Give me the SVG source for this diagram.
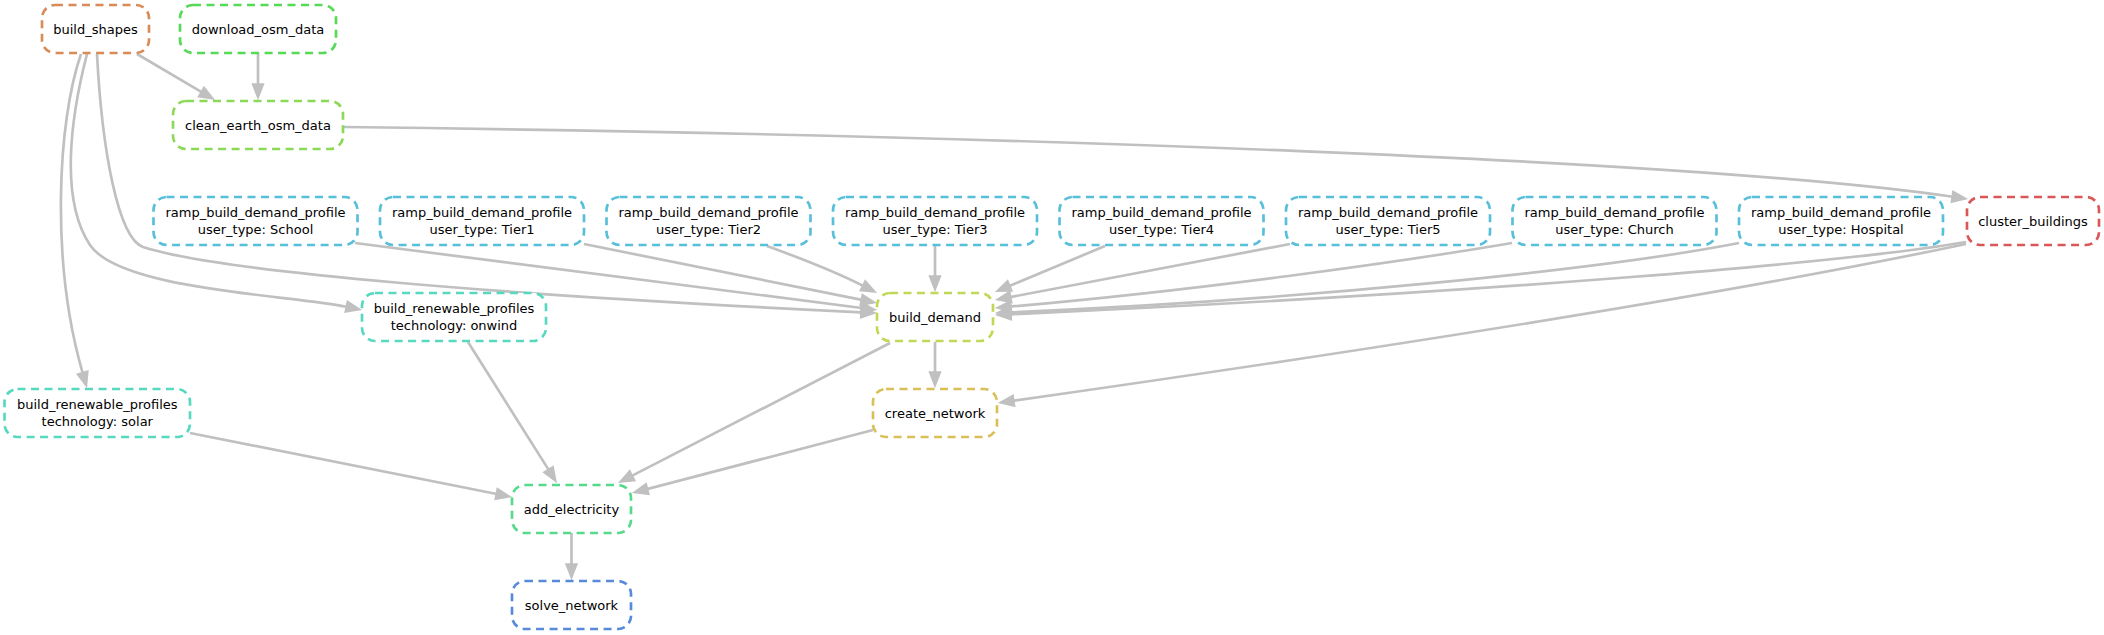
<svg xmlns="http://www.w3.org/2000/svg" width="2104" height="635" viewBox="0 0 2104 635">
<defs>
<style>
.n rect{fill:#fff;stroke-width:2.67;stroke-dasharray:8,5.5}
.n text{font-family:"DejaVu Sans","Liberation Sans",sans-serif;font-size:13px;fill:#000;text-anchor:middle}
#edges path{fill:none;stroke:#c0c0c0;stroke-width:2.67;marker-end:url(#ah)}
.c0 rect{stroke:#D95757}.c1 rect{stroke:#D98B57}.c2 rect{stroke:#D9BF57}.c3 rect{stroke:#BFD957}.c4 rect{stroke:#8BD957}.c5 rect{stroke:#57D957}.c6 rect{stroke:#57D98B}.c7 rect{stroke:#57D9BF}.c8 rect{stroke:#57BFD9}.c9 rect{stroke:#578BD9}
</style>
<marker id="ah" markerUnits="userSpaceOnUse" markerWidth="24" markerHeight="16" viewBox="-2 -8 24 16" refX="0" refY="0" orient="auto" overflow="visible">
<path d="M0,-4.7 L12,0 L0,4.7 Z" fill="#c0c0c0" stroke="#c0c0c0" stroke-width="2.67"/>
</marker>
</defs>
<rect width="2104" height="635" fill="#fff"/>
<g id="edges">
<path d="M137,54 L201.7,92.1"/>
<path d="M258,53 L258,84.5"/>
<path d="M343,127 C1000,135 1700,160 1952.7,196.8"/>
<path d="M97,54 C102,150 118,238 143,247 C220,272 500,295 861.5,312.3"/>
<path d="M87,54 C70,120 60,200 90,245 C120,290 290,295 346.8,306.8"/>
<path d="M81,54 C58,120 50,260 82.7,373.1"/>
<path d="M355,243 L861.6,308"/>
<path d="M584,244 L861.8,299.9"/>
<path d="M767,246 C800,258 840,274 863.2,285.9"/>
<path d="M935,246 L935,276.5"/>
<path d="M1105,246 L1009.3,286"/>
<path d="M1290,244 L1010.2,297.1"/>
<path d="M1512,243 C1400,262 1200,290 1010.4,306.6"/>
<path d="M1739,243 C1600,270 1300,300 1010.5,312.3"/>
<path d="M1966,242 C1850,262 1500,292 1010.5,314.3"/>
<path d="M1966,244 C1700,300 1300,360 1013.3,400.8"/>
<path d="M935,342 L935,372.5"/>
<path d="M890,343 L631.8,475.9"/>
<path d="M468,342 L548.7,469.9"/>
<path d="M873,430 L647,489.1"/>
<path d="M190,433 L496.8,494"/>
<path d="M571.5,533 L571.5,564.5"/>
</g>
<g id="build_shapes" class="n c1"><rect x="42" y="5" width="107" height="48" rx="13"/><text x="95.5" y="33.5">build_shapes</text></g>
<g id="download_osm_data" class="n c5"><rect x="180" y="5" width="156" height="48" rx="13"/><text x="258" y="33.5">download_osm_data</text></g>
<g id="clean_earth_osm_data" class="n c4"><rect x="173" y="101" width="170" height="48" rx="13"/><text x="258" y="129.5">clean_earth_osm_data</text></g>
<g id="ramp_school" class="n c8"><rect x="153.5" y="197" width="204" height="48" rx="13"/><text x="255.5" y="216.5">ramp_build_demand_profile</text><text x="255.5" y="233.5">user_type: School</text></g>
<g id="ramp_tier1" class="n c8"><rect x="380" y="197" width="204" height="48" rx="13"/><text x="482" y="216.5">ramp_build_demand_profile</text><text x="482" y="233.5">user_type: Tier1</text></g>
<g id="ramp_tier2" class="n c8"><rect x="606.5" y="197" width="204" height="48" rx="13"/><text x="708.5" y="216.5">ramp_build_demand_profile</text><text x="708.5" y="233.5">user_type: Tier2</text></g>
<g id="ramp_tier3" class="n c8"><rect x="833" y="197" width="204" height="48" rx="13"/><text x="935" y="216.5">ramp_build_demand_profile</text><text x="935" y="233.5">user_type: Tier3</text></g>
<g id="ramp_tier4" class="n c8"><rect x="1059.5" y="197" width="204" height="48" rx="13"/><text x="1161.5" y="216.5">ramp_build_demand_profile</text><text x="1161.5" y="233.5">user_type: Tier4</text></g>
<g id="ramp_tier5" class="n c8"><rect x="1286" y="197" width="204" height="48" rx="13"/><text x="1388" y="216.5">ramp_build_demand_profile</text><text x="1388" y="233.5">user_type: Tier5</text></g>
<g id="ramp_church" class="n c8"><rect x="1512.5" y="197" width="204" height="48" rx="13"/><text x="1614.5" y="216.5">ramp_build_demand_profile</text><text x="1614.5" y="233.5">user_type: Church</text></g>
<g id="ramp_hospital" class="n c8"><rect x="1739" y="197" width="204" height="48" rx="13"/><text x="1841" y="216.5">ramp_build_demand_profile</text><text x="1841" y="233.5">user_type: Hospital</text></g>
<g id="cluster_buildings" class="n c0"><rect x="1967" y="197" width="132" height="48" rx="13"/><text x="2033" y="225.5">cluster_buildings</text></g>
<g id="build_renewable_onwind" class="n c7"><rect x="362" y="293" width="184" height="48" rx="13"/><text x="454" y="312.5">build_renewable_profiles</text><text x="454" y="329.5">technology: onwind</text></g>
<g id="build_demand" class="n c3"><rect x="877" y="293" width="116" height="48" rx="13"/><text x="935" y="321.5">build_demand</text></g>
<g id="build_renewable_solar" class="n c7"><rect x="4.5" y="389" width="185.5" height="48" rx="13"/><text x="97.25" y="408.5">build_renewable_profiles</text><text x="97.25" y="425.5">technology: solar</text></g>
<g id="create_network" class="n c2"><rect x="873" y="389" width="124" height="48" rx="13"/><text x="935" y="417.5">create_network</text></g>
<g id="add_electricity" class="n c6"><rect x="512" y="485" width="119" height="48" rx="13"/><text x="571.5" y="513.5">add_electricity</text></g>
<g id="solve_network" class="n c9"><rect x="512" y="581" width="119" height="48" rx="13"/><text x="571.5" y="609.5">solve_network</text></g>
</svg>
